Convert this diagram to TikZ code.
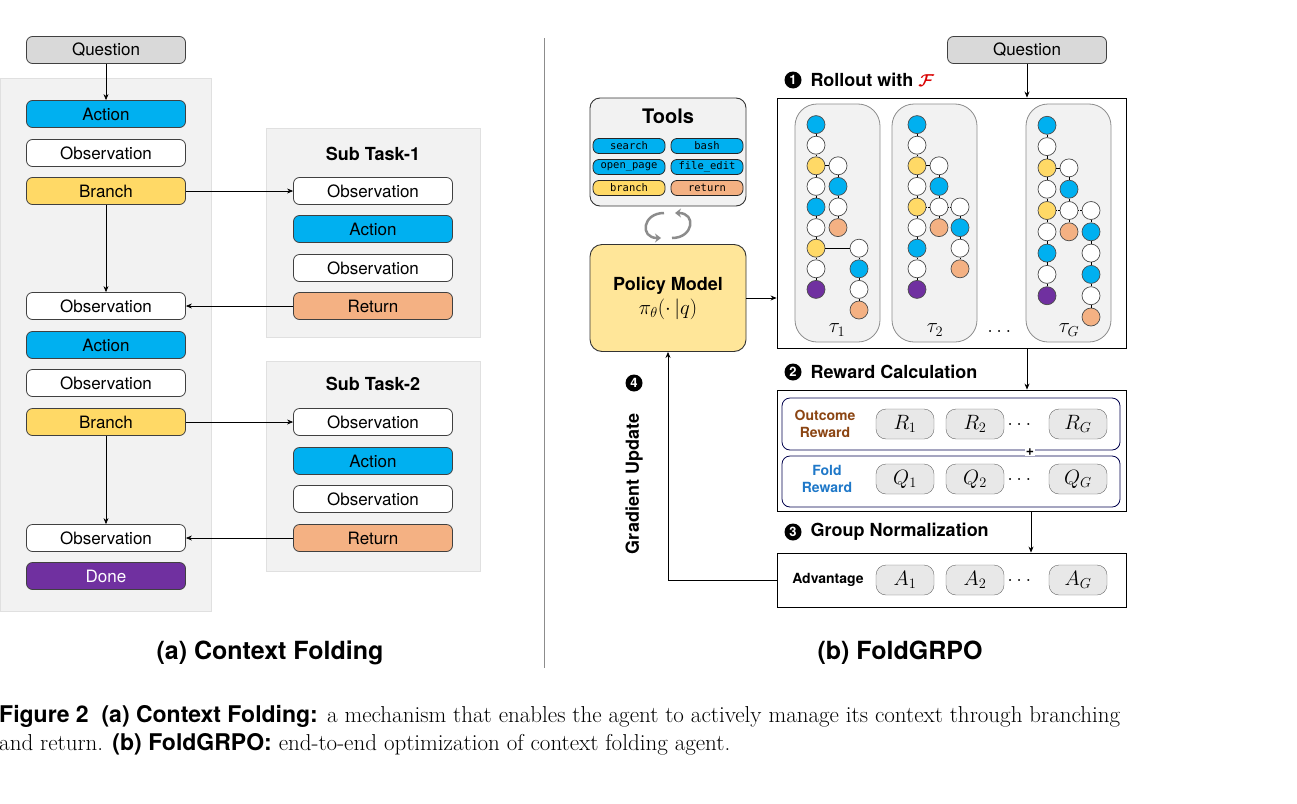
\documentclass[tikz,border=0pt]{standalone}
\usepackage{amsmath}
\usepackage{fontspec}
\newfontfamily\hv{TeX Gyre Heros}
\newfontfamily\mono{DejaVu Sans Mono}
\usetikzlibrary{positioning,arrows.meta}
\definecolor{cblue}{HTML}{00B0F0}
\definecolor{cyel}{HTML}{FFD966}
\definecolor{corg}{HTML}{F4B183}
\definecolor{cpur}{HTML}{7030A0}
\definecolor{cpan}{HTML}{F2F2F2}
\definecolor{cque}{HTML}{D9D9D9}
\definecolor{cpol}{HTML}{FFE699}
\definecolor{cbrown}{HTML}{8B4513}
\definecolor{cfold}{HTML}{1F78C8}
\tikzset{
  stage/.style={draw=black!75,rounded corners=6pt,minimum width=159pt,minimum height=27pt,
    inner sep=0,font=\hv\fontsize{17}{20}\selectfont,line width=0.8pt},
  panel/.style={fill=cpan,draw=black!12},
  dot/.style={circle,draw=black!70,minimum size=18pt,inner sep=0,line width=0.7pt},
  tool/.style={draw=black!85,rounded corners=6pt,minimum width=72pt,minimum height=15pt,
    inner sep=0,line width=0.8pt,font=\mono\fontsize{10.5}{12}\selectfont},
  pill/.style={draw=black!60,fill=cque!60,rounded corners=10pt,minimum width=58pt,
    minimum height=30pt,inner sep=0,font=\fontsize{20}{22}\selectfont},
  num/.style={circle,fill=black,text=white,inner sep=0,minimum size=17pt,
    font=\hv\bfseries\fontsize{13}{13}\selectfont},
  head/.style={font=\hv\bfseries\fontsize{18}{20}\selectfont,anchor=west},
  arr/.style={-{Stealth[length=6pt,width=5pt]},line width=0.7pt},
  cyc/.style={black!45,line width=2.5pt,-{Stealth[length=6pt,width=9pt]}},
  big/.style={font=\hv\bfseries\fontsize{25}{28}\selectfont}
}
% one column of a rollout tree and its links
\newcommand\dotcol[5]{\foreach \c [count=\i from #3] in {#4}
  \node[dot,fill=\c] (#1\i) at (#2,104+#5*\i) {};}
\newcommand\dotlink[3]{\foreach \i in {#2,...,#3}{
  \pgfmathtruncatemacro\j{\i+1}\draw[line width=0.7pt] (#1\i) -- (#1\j);}}
\begin{document}
\begin{tikzpicture}[x=1pt,y=-1pt]
\useasboundingbox (0,0) rectangle (1297,803);

% (a) context folding
\fill[panel] (0,78) rectangle (211,611);
\fill[panel] (266,128) rectangle (480,337);
\fill[panel] (266,361) rectangle (480,571);
\node[stage,fill=cque] (q) at (106,50) {Question};
\node[stage,fill=cblue] (a1) at (106,114) {Action};
\node[stage,fill=white] (o1) at (106,153) {Observation};
\node[stage,fill=cyel] (b1) at (106,191) {Branch};
\node[stage,fill=white] (o2) at (106,306) {Observation};
\node[stage,fill=cblue] (a2) at (106,345) {Action};
\node[stage,fill=white] (o3) at (106,383) {Observation};
\node[stage,fill=cyel] (b2) at (106,422) {Branch};
\node[stage,fill=white] (o4) at (106,538) {Observation};
\node[stage,fill=cpur,text=white] (done) at (106,576) {Done};

\node[font=\hv\bfseries\fontsize{18}{20}\selectfont] (t1) at (373,154) {Sub Task-1};
\node[stage,fill=white] (s1o1) at (373,191) {Observation};
\node[stage,fill=cblue] (s1a) at (373,229) {Action};
\node[stage,fill=white] (s1o2) at (373,268) {Observation};
\node[stage,fill=corg] (s1r) at (373,306) {Return};
\node[font=\hv\bfseries\fontsize{18}{20}\selectfont] (t2) at (373,384) {Sub Task-2};
\node[stage,fill=white] (s2o1) at (373,422) {Observation};
\node[stage,fill=cblue] (s2a) at (373,461) {Action};
\node[stage,fill=white] (s2o2) at (373,499) {Observation};
\node[stage,fill=corg] (s2r) at (373,538) {Return};

\draw[arr] (q) -- (a1);
\draw[arr] (b1) -- (s1o1);
\draw[arr] (b1) -- (o2);
\draw[arr] (s1r) -- (o2);
\draw[arr] (b2) -- (s2o1);
\draw[arr] (b2) -- (o4);
\draw[arr] (s2r) -- (o4);
\node[big] (capa) at (270,653) {(a) Context Folding};

\draw[black!45,line width=1pt] (544,38) -- (544,668);

% (b) FoldGRPO
\node[stage,fill=cque] (q2) at (1027,50) {Question};
\draw[black!80,line width=0.9pt,rounded corners=10pt,fill=cpan] (590,98) rectangle (746,206);
\node[font=\hv\bfseries\fontsize{20}{22}\selectfont] (tools) at (668,116) {Tools};
\node[tool,fill=cblue] (search) at (629,146) {search};
\node[tool,fill=cblue] (bash) at (707,146) {bash};
\node[tool,fill=cblue] (open) at (629,167) {open\_page};
\node[tool,fill=cblue] (edit) at (707,167) {file\_edit};
\node[tool,fill=cyel] (branch) at (629,188) {branch};
\node[tool,fill=corg] (return) at (707,188) {return};
\draw[cyc] (664,213) to[out=180,in=180,looseness=2.2] (661,238);
\draw[cyc] (672,238) to[out=0,in=0,looseness=2.2] (675,213);
\node[draw=black!80,line width=0.9pt,rounded corners=12pt,fill=cpol,minimum width=156pt,
  minimum height=107pt,align=center,font=\hv\bfseries\fontsize{18}{22}\selectfont] (policy) at (668,298)
  {Policy Model\\[2pt] \normalfont\fontsize{21}{24}\selectfont$\pi_\theta(\cdot\,|q)$};

\node[draw,line width=0.9pt,minimum width=349pt,minimum height=250pt] (roll) at (951.5,223) {};
\node[num] (n1) at (793,80) {1};
\node[head] (h1) at (807,80) {Rollout with \textcolor{red!85!black}{$\boldsymbol{\mathcal{F}}$}};
\draw[arr] (q2) -- (q2 |- roll.north);
\draw[arr] (policy) -- (roll.west |- policy);

\foreach \x in {795,892,1026}
  \draw[black!45,fill=cpan,rounded corners=22pt,line width=0.8pt] (\x,104) rectangle ++(85,238);
% tree 1
\dotcol{ta}{816}{1}{cblue,white,cyel,white,cblue,white,cyel,white,cpur}{20.6}
\dotcol{tb}{838}{3}{white,cblue,white,corg}{20.6}
\dotcol{tc}{859}{7}{white,cblue,white,corg}{20.6}
\dotlink{ta}{1}{8} \dotlink{tb}{3}{5} \dotlink{tc}{7}{9}
\draw[line width=0.7pt] (ta3) -- (tb3);
\draw[line width=0.7pt] (ta7) -- (tc7);
% tree 2
\dotcol{ua}{917}{1}{cblue,white,cyel,white,cyel,white,cblue,white,cpur}{20.6}
\dotcol{ub}{939}{3}{white,cblue,white,corg}{20.6}
\dotcol{uc}{960}{5}{white,cblue,white,corg}{20.6}
\dotlink{ua}{1}{8} \dotlink{ub}{3}{5} \dotlink{uc}{5}{7}
\draw[line width=0.7pt] (ua3) -- (ub3);
\draw[densely dotted] (ua5) -- (ub5);
\draw[densely dotted] (ub5) -- (uc5);
% tree G
\dotcol{va}{1047}{1}{cblue,white,cyel,white,cyel,white,cblue,white,cpur}{21.3}
\dotcol{vb}{1069}{3}{white,cblue,white,corg}{21.3}
\dotcol{vc}{1091}{5}{white,cblue,white,cblue,white,corg}{21.3}
\dotlink{va}{1}{8} \dotlink{vb}{3}{5} \dotlink{vc}{5}{9}
\draw[line width=0.7pt] (va3) -- (vb3);
\draw[densely dotted] (va5) -- (vb5);
\draw[densely dotted] (vb5) -- (vc5);
\node[font=\fontsize{22}{24}\selectfont] (tau1) at (837,330) {$\tau_1$};
\node[font=\fontsize{22}{24}\selectfont] (tau2) at (935,330) {$\tau_2$};
\node[font=\fontsize{20}{24}\selectfont] (taud) at (1001,331) {$\dots$};
\node[font=\fontsize{22}{24}\selectfont] (taug) at (1069,330) {$\tau_G$};

% reward calculation
\node[num] (n2) at (793,372) {2};
\node[head] (h2) at (807,372) {Reward Calculation};
\node[draw,line width=0.9pt,minimum width=349pt,minimum height=121pt] (rew) at (951.5,450.5) {};
\draw[arr] (roll.south -| q2) -- (rew.north -| q2);
\node[draw=black!70!blue,rounded corners=8pt,minimum width=338pt,minimum height=52pt,line width=0.8pt] (outb) at (951,424) {};
\node[draw=black!70!blue,rounded corners=8pt,minimum width=338pt,minimum height=51pt,line width=0.8pt] (foldb) at (951,481.5) {};
\node[align=center,text=cbrown,font=\hv\bfseries\fontsize{14}{17}\selectfont] (outl) at (825,424) {Outcome\\Reward};
\node[align=center,text=cfold,font=\hv\bfseries\fontsize{14}{17}\selectfont] (foldl) at (827,479) {Fold\\Reward};
\node[pill] (r1) at (905,424) {$R_1$};
\node[pill] (r2) at (975,424) {$R_2$};
\node[font=\fontsize{20}{22}\selectfont] (rd) at (1021,424) {$\dots$};
\node[pill] (rg) at (1078,424) {$R_G$};
\node[pill] (q1) at (905,479) {$Q_1$};
\node[pill] (qq2) at (975,479) {$Q_2$};
\node[font=\fontsize{20}{22}\selectfont] (qd) at (1021,479) {$\dots$};
\node[pill] (qg) at (1078,479) {$Q_G$};
\node[fill=white,inner sep=1pt,font=\hv\bfseries\fontsize{14}{14}\selectfont] (plus) at (1030,452) {+};

% group normalization
\node[num] (n3) at (793,532) {3};
\node[head] (h3) at (807,532) {Group Normalization};
\node[draw,line width=0.9pt,minimum width=349pt,minimum height=54pt] (adv) at (951.5,580) {};
\draw[arr] (rew.south -| 1031,0) -- (adv.north -| 1031,0);
\node[font=\hv\bfseries\fontsize{14}{17}\selectfont] (advl) at (828,580) {Advantage};
\node[pill] (ad1) at (905,580) {$A_1$};
\node[pill] (ad2) at (975,580) {$A_2$};
\node[font=\fontsize{20}{22}\selectfont] (ad) at (1021,580) {$\dots$};
\node[pill] (adg) at (1078,580) {$A_G$};

% gradient update
\coordinate (gu) at (668,580);
\draw[arr] (adv.west) -- (gu) -- (policy.south);
\node[num] (n4) at (634,383) {4};
\node[rotate=90,font=\hv\bfseries\fontsize{18}{20}\selectfont] (gl) at (634,484) {Gradient Update};
\node[big] (capb) at (900,653) {(b) FoldGRPO};

% caption
\node[anchor=west,inner sep=0,font=\fontsize{23}{26}\selectfont] (cap1) at (-1,716)
  {{\hv\bfseries Figure 2\ \ (a) Context Folding:} a mechanism that enables the agent to actively manage its context through branching};
\node[anchor=west,inner sep=0,font=\fontsize{23}{26}\selectfont] (cap2) at (-1,744)
  {and return. {\hv\bfseries (b) FoldGRPO:} end-to-end optimization of context folding agent.};
\end{tikzpicture}
\end{document}
